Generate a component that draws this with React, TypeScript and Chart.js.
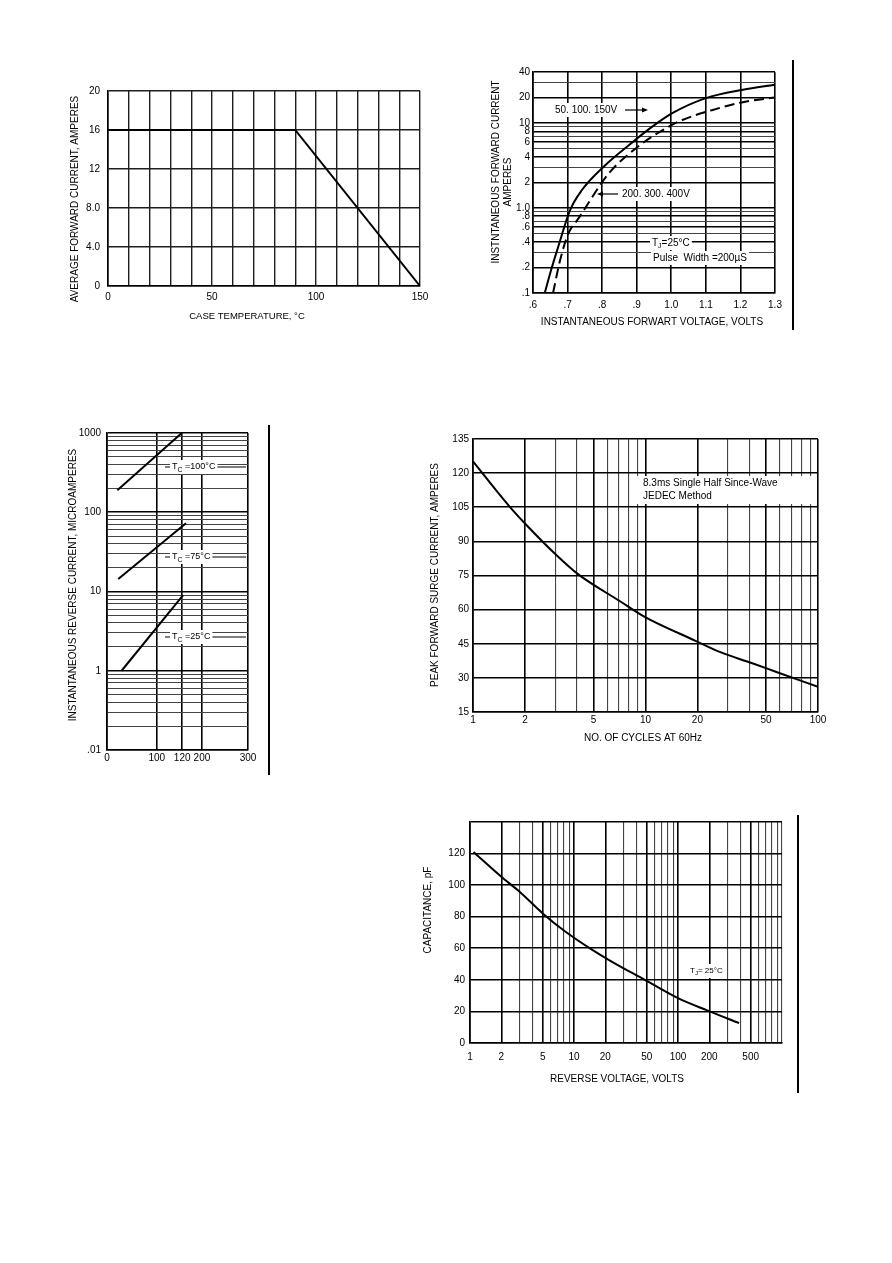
import React, { useEffect, useRef } from "react";
import { Chart, registerables } from "chart.js";

Chart.register(...registerables);

const FAMILY = "'Liberation Sans', Arial, Helvetica, sans-serif";

/* ---------------- Fig.1 Forward current derating ---------------- */
const c1CaseTemp = [0, 90, 150];
const c1AvgCurrent = [16, 16, 0];
const c1XGrid = [0, 10, 20, 30, 40, 50, 60, 70, 80, 90, 100, 110, 120, 130, 140, 150];
const c1XLabelValues = [0, 50, 100, 150];
const c1XLabels = ["0", "50", "100", "150"];
const c1YGrid = [0, 4, 8, 12, 16, 20];
const c1YLabels = ["0", "4.0", "8.0", "12", "16", "20"];

/* ---------------- Fig.2 Forward characteristics ---------------- */
const c2VoltsLow = [0.634, 0.653, 0.673, 0.707, 0.741, 0.809, 0.877, 0.945, 1.003, 1.1, 1.207, 1.3];
const c2AmpsLow = [0.1, 0.19, 0.35, 0.94, 1.62, 3.2, 5.5, 9.1, 13.1, 19.7, 24.7, 28.3];
const c2VoltsHigh = [0.658, 0.678, 0.702, 0.731, 0.819, 0.896, 0.984, 1.032, 1.12, 1.217, 1.3];
const c2AmpsHigh = [0.1, 0.24, 0.5, 0.75, 2.55, 5.0, 8.7, 10.9, 14.3, 18.0, 20.0];
const c2XGrid = [0.6, 0.7, 0.8, 0.9, 1.0, 1.1, 1.2, 1.3];
const c2XLabels = [".6", ".7", ".8", ".9", "1.0", "1.1", "1.2", "1.3"];
const c2YGrid = [0.1, 0.2, 0.3, 0.4, 0.5, 0.6, 0.7, 0.8, 0.9, 1, 2, 3, 4, 5, 6, 7, 8, 9, 10, 20, 30, 40];
const c2YLabelValues = [0.1, 0.2, 0.4, 0.6, 0.8, 1, 2, 4, 6, 8, 10, 20, 40];
const c2YLabels = [".1", ".2", ".4", ".6", ".8", "1.0", "2", "4", "6", "8", "10", "20", "40"];

/* ---------------- Fig.3 Reverse characteristics ---------------- */
const c3VoltsTc100 = [22, 159];
const c3MicroAmpsTc100 = [190, 1000];
const c3VoltsTc75 = [24, 168];
const c3MicroAmpsTc75 = [14.4, 72.5];
const c3VoltsTc25 = [31, 162];
const c3MicroAmpsTc25 = [1.0, 9.0];
const c3XGrid = [0, 106, 160, 202, 300];
const c3XLabels = ["0", "100", "120", "200", "300"];
const c3YLabelValues = [0.1, 1, 10, 100, 1000];
const c3YLabels = [".01", "1", "10", "100", "1000"];

/* ---------------- Fig.4 Surge current ---------------- */
const c4Cycles = [1, 1.63, 2.04, 3.04, 4.06, 7.08, 9.89, 19.5, 26.9, 42, 57.4, 100];
const c4SurgeAmps = [125.2, 105.3, 97.2, 84, 75.6, 63.8, 56.8, 46.3, 41.4, 36.3, 32.6, 26.1];
const c4XLabelValues = [1, 2, 5, 10, 20, 50, 100];
const c4XLabels = ["1", "2", "5", "10", "20", "50", "100"];
const c4YGrid = [15, 30, 45, 60, 75, 90, 105, 120, 135];
const c4YLabels = ["15", "30", "45", "60", "75", "90", "105", "120", "135"];

/* ---------------- Fig.5 Junction capacitance ---------------- */
const c5Volts = [1.08, 2, 3, 5, 8.3, 15, 23, 48, 100, 193, 387];
const c5CapPf = [121, 105.3, 95.8, 82.1, 70.5, 59, 51.6, 40, 28.4, 20.5, 12.6];
const c5XLabelValues = [1, 2, 5, 10, 20, 50, 100, 200, 500];
const c5XLabels = ["1", "2", "5", "10", "20", "50", "100", "200", "500"];
const c5YGrid = [0, 20, 40, 60, 80, 100, 120, 140];
const c5YLabels = ["0", "20", "40", "60", "80", "100", "120", ""];

/* ---------------- helpers ---------------- */
function logGrid(min: number, max: number): number[] {
  const out: number[] = [];
  const e0 = Math.round(Math.log10(min));
  const e1 = Math.round(Math.log10(max));
  for (let e = e0; e < e1; e++) {
    for (let k = 1; k <= 9; k++) out.push(Number((k * Math.pow(10, e)).toPrecision(6)));
  }
  out.push(max);
  return out;
}
const near = (a: number, b: number) => Math.abs(a - b) <= 1e-6 * Math.max(1, Math.abs(a));
const pts = (xs: number[], ys: number[]) => xs.map((x, i) => ({ x, y: ys[i] }));

type Box = { l: number; t: number; r: number; b: number; yW: number; xH: number };
type Rect = { left: number; top: number; width: number; height: number };
const PAD = 20;
function rectOf(b: Box): Rect {
  return { left: b.l - b.yW, top: b.t - PAD, width: b.yW + (b.r - b.l) + PAD, height: PAD + (b.b - b.t) + b.xH };
}

function axis(o: {
  horiz: boolean;
  type: "linear" | "logarithmic";
  min: number;
  max: number;
  grid: number[];
  lv: number[];
  labels: string[];
  pad: number;
  size: number;
  uniform?: boolean;
}) {
  const isLab = (v: number) => o.lv.some((t) => near(t, v));
  return {
    type: o.type,
    min: o.min,
    max: o.max,
    position: o.horiz ? "bottom" : "left",
    afterBuildTicks: (s: any) => {
      s.ticks = o.grid.map((v) => ({ value: v }));
    },
    afterFit: (s: any) => {
      if (o.horiz) s.height = o.size;
      else s.width = o.size;
    },
    ticks: {
      autoSkip: false,
      maxRotation: 0,
      minRotation: 0,
      padding: o.pad,
      color: "#000",
      font: { family: FAMILY, size: 10 },
      callback: (v: any) => {
        const i = o.lv.findIndex((t) => near(t, Number(v)));
        return i < 0 ? "" : o.labels[i];
      },
    },
    grid: {
      drawTicks: false,
      color: (c: any) => (o.uniform ? "#1e1e1e" : c.tick && isLab(c.tick.value) ? "#000" : "#444"),
      lineWidth: (c: any) => (o.uniform ? 1.4 : c.tick && isLab(c.tick.value) ? 1.6 : 1.1),
    },
    border: { display: true, color: "#000", width: 1.6 },
    title: { display: false },
  };
}

function font(size: number) {
  return `${size}px ${FAMILY}`;
}
function txt(ctx: CanvasRenderingContext2D, s: string, x: number, y: number, size = 10, align: CanvasTextAlign = "left", rot = 0) {
  ctx.save();
  ctx.translate(x, y);
  ctx.rotate(rot);
  ctx.font = font(size);
  ctx.fillStyle = "#000";
  ctx.textAlign = align;
  ctx.textBaseline = "middle";
  ctx.fillText(s, 0, 0);
  ctx.restore();
}
type Part = { s: string; size: number; dy?: number };
function rich(ctx: CanvasRenderingContext2D, parts: Part[], x: number, y: number, bg = false) {
  ctx.save();
  ctx.textBaseline = "middle";
  ctx.textAlign = "left";
  let w = 0;
  const widths = parts.map((p) => {
    ctx.font = font(p.size);
    const m = ctx.measureText(p.s).width;
    w += m;
    return m;
  });
  if (bg) {
    ctx.fillStyle = "#fff";
    ctx.fillRect(x - 2, y - 7, w + 4, 14);
  }
  ctx.fillStyle = "#000";
  let cx = x;
  parts.forEach((p, i) => {
    ctx.font = font(p.size);
    ctx.fillText(p.s, cx, y + (p.dy || 0));
    cx += widths[i];
  });
  ctx.restore();
}
function seg(ctx: CanvasRenderingContext2D, x1: number, y1: number, x2: number, y2: number, w = 1.2) {
  ctx.save();
  ctx.strokeStyle = "#000";
  ctx.lineWidth = w;
  ctx.beginPath();
  ctx.moveTo(x1, y1);
  ctx.lineTo(x2, y2);
  ctx.stroke();
  ctx.restore();
}
function head(ctx: CanvasRenderingContext2D, x: number, y: number, dir: 1 | -1) {
  ctx.save();
  ctx.fillStyle = "#000";
  ctx.beginPath();
  ctx.moveTo(x, y);
  ctx.lineTo(x - dir * 6, y - 2.5);
  ctx.lineTo(x - dir * 6, y + 2.5);
  ctx.closePath();
  ctx.fill();
  ctx.restore();
}

function overlay(id: string, rect: Rect, draw: (ctx: CanvasRenderingContext2D) => void) {
  return {
    id,
    beforeDatasetsDraw(chart: any) {
      const ctx = chart.ctx as CanvasRenderingContext2D;
      ctx.save();
      ctx.translate(-rect.left, -rect.top);
      draw(ctx);
      ctx.restore();
    },
  };
}

function baseOptions(x: any, y: any) {
  return {
    responsive: false,
    maintainAspectRatio: false,
    animation: false,
    devicePixelRatio: 1,
    layout: { padding: { top: PAD, right: PAD, left: 0, bottom: 0 } },
    plugins: { legend: { display: false }, tooltip: { enabled: false }, title: { display: false } },
    elements: { point: { radius: 0 } },
    scales: { x, y },
  };
}

const curve = (data: any[], extra: any = {}) => ({
  data,
  borderColor: "#000",
  borderWidth: 2,
  pointRadius: 0,
  fill: false,
  ...extra,
});

const HALF_PI = Math.PI / 2;

/* ---------------- boxes ---------------- */
const box1: Box = { l: 108, t: 91, r: 420, b: 286, yW: 48, xH: 44 };
const box2: Box = { l: 533, t: 72, r: 775, b: 293, yW: 53, xH: 47 };
const box3: Box = { l: 107, t: 433, r: 248, b: 750, yW: 47, xH: 32 };
const box4: Box = { l: 473, t: 439, r: 818, b: 712, yW: 53, xH: 41 };
const box5: Box = { l: 470, t: 822, r: 782, b: 1043, yW: 50, xH: 49 };

const rect1 = rectOf(box1);
const rect2 = rectOf(box2);
const rect3 = rectOf(box3);
const rect4 = rectOf(box4);
const rect5 = rectOf(box5);

function make1() {
  return {
    type: "line",
    data: { datasets: [curve(pts(c1CaseTemp, c1AvgCurrent), { tension: 0 })] },
    options: baseOptions(
      axis({ horiz: true, type: "linear", min: 0, max: 150, grid: c1XGrid, lv: c1XLabelValues, labels: c1XLabels, pad: 5, size: box1.xH, uniform: true }),
      axis({ horiz: false, type: "linear", min: 0, max: 20, grid: c1YGrid, lv: c1YGrid, labels: c1YLabels, pad: 8, size: box1.yW, uniform: true })
    ),
    plugins: [
      overlay("c1", rect1, (ctx) => {
        txt(ctx, "CASE TEMPERATURE, °C", 247, 316, 9.5, "center");
        txt(ctx, "AVERAGE FORWARD CURRENT, AMPERES", 75, 199, 10, "center", -HALF_PI);
      }),
    ],
  };
}

function make2() {
  return {
    type: "line",
    data: {
      datasets: [
        curve(pts(c2VoltsLow, c2AmpsLow), { cubicInterpolationMode: "monotone" }),
        curve(pts(c2VoltsHigh, c2AmpsHigh), { cubicInterpolationMode: "monotone", borderDash: [10, 5] }),
      ],
    },
    options: baseOptions(
      axis({ horiz: true, type: "linear", min: 0.6, max: 1.3, grid: c2XGrid, lv: c2XGrid, labels: c2XLabels, pad: 6, size: box2.xH }),
      axis({ horiz: false, type: "logarithmic", min: 0.1, max: 40, grid: c2YGrid, lv: c2YLabelValues, labels: c2YLabels, pad: 3, size: box2.yW })
    ),
    plugins: [
      overlay("c2", rect2, (ctx) => {
        txt(ctx, "INSTANTANEOUS FORWART VOLTAGE, VOLTS", 652, 322, 10, "center");
        txt(ctx, "INSTNTANEOUS FORWARD CURRENT", 496, 172, 10, "center", -HALF_PI);
        txt(ctx, "AMPERES", 508, 182, 10, "center", -HALF_PI);
        rich(ctx, [{ s: "50. 100. 150V", size: 10 }], 555, 110, true);
        seg(ctx, 625, 110, 643, 110);
        head(ctx, 648, 110, 1);
        rich(ctx, [{ s: "200. 300. 400V", size: 10 }], 622, 194, true);
        seg(ctx, 618, 194, 602, 194);
        head(ctx, 597, 194, -1);
        rich(ctx, [{ s: "T", size: 10 }, { s: "J", size: 7, dy: 3 }, { s: "=25°C", size: 10 }], 652, 243, true);
        rich(ctx, [{ s: "Pulse  Width =200µS", size: 10 }], 653, 258, true);
      }),
    ],
  };
}

function make3() {
  const tc = (ctx: CanvasRenderingContext2D, y: number, val: string) => {
    seg(ctx, 165, y, 246, y, 1.2);
    rich(ctx, [{ s: "T", size: 9 }, { s: "C", size: 7, dy: 3 }, { s: " =" + val + "°C", size: 9 }], 172, y, true);
  };
  return {
    type: "line",
    data: {
      datasets: [
        curve(pts(c3VoltsTc100, c3MicroAmpsTc100), { tension: 0 }),
        curve(pts(c3VoltsTc75, c3MicroAmpsTc75), { tension: 0 }),
        curve(pts(c3VoltsTc25, c3MicroAmpsTc25), { tension: 0 }),
      ],
    },
    options: baseOptions(
      axis({ horiz: true, type: "linear", min: 0, max: 300, grid: c3XGrid, lv: c3XGrid, labels: c3XLabels, pad: 2, size: box3.xH }),
      axis({ horiz: false, type: "logarithmic", min: 0.1, max: 1000, grid: logGrid(0.1, 1000), lv: c3YLabelValues, labels: c3YLabels, pad: 6, size: box3.yW })
    ),
    plugins: [
      overlay("c3", rect3, (ctx) => {
        txt(ctx, "INSTANTANEOUS REVERSE CURRENT, MICROAMPERES", 73, 585, 10, "center", -HALF_PI);
        tc(ctx, 467, "100");
        tc(ctx, 557, "75");
        tc(ctx, 637, "25");
      }),
    ],
  };
}

function make4() {
  return {
    type: "line",
    data: { datasets: [curve(pts(c4Cycles, c4SurgeAmps), { cubicInterpolationMode: "monotone" })] },
    options: baseOptions(
      axis({ horiz: true, type: "logarithmic", min: 1, max: 100, grid: logGrid(1, 100), lv: c4XLabelValues, labels: c4XLabels, pad: 2, size: box4.xH }),
      axis({ horiz: false, type: "linear", min: 15, max: 135, grid: c4YGrid, lv: c4YGrid, labels: c4YLabels, pad: 4, size: box4.yW })
    ),
    plugins: [
      overlay("c4", rect4, (ctx) => {
        txt(ctx, "NO. OF CYCLES AT 60Hz", 643, 738, 10, "center");
        txt(ctx, "PEAK FORWARD SURGE CURRENT, AMPERES", 435, 575, 10, "center", -HALF_PI);
        ctx.fillStyle = "#fff";
        ctx.fillRect(637, 476, 180, 28);
        txt(ctx, "8.3ms Single Half Since-Wave", 643, 483, 10, "left");
        txt(ctx, "JEDEC Method", 643, 496, 10, "left");
      }),
    ],
  };
}

function make5() {
  return {
    type: "line",
    data: { datasets: [curve(pts(c5Volts, c5CapPf), { cubicInterpolationMode: "monotone" })] },
    options: baseOptions(
      axis({ horiz: true, type: "logarithmic", min: 1, max: 1000, grid: logGrid(1, 1000), lv: c5XLabelValues, labels: c5XLabels, pad: 8, size: box5.xH }),
      axis({ horiz: false, type: "linear", min: 0, max: 140, grid: c5YGrid, lv: c5YGrid, labels: c5YLabels, pad: 5, size: box5.yW })
    ),
    plugins: [
      overlay("c5", rect5, (ctx) => {
        txt(ctx, "REVERSE VOLTAGE, VOLTS", 617, 1079, 10, "center");
        txt(ctx, "CAPACITANCE, pF", 428, 910, 10, "center", -HALF_PI);
        rich(ctx, [{ s: "T", size: 8 }, { s: "J", size: 6, dy: 2 }, { s: "= 25°C", size: 8 }], 690, 971, true);
      }),
    ],
  };
}

function ChartCanvas({ rect, make }: { rect: Rect; make: () => any }) {
  const ref = useRef<HTMLCanvasElement | null>(null);
  useEffect(() => {
    const chart = new Chart(ref.current as HTMLCanvasElement, make());
    return () => chart.destroy();
  }, []);
  return (
    <div style={{ position: "absolute", left: rect.left, top: rect.top, width: rect.width, height: rect.height }}>
      <canvas ref={ref} width={rect.width} height={rect.height} style={{ display: "block", width: rect.width, height: rect.height }} />
    </div>
  );
}

function VLine({ x, y1, y2 }: { x: number; y1: number; y2: number }) {
  return <div style={{ position: "absolute", left: x, top: y1, width: 1.5, height: y2 - y1, background: "#000" }} />;
}

export default function App() {
  return (
    <div style={{ position: "absolute", left: 0, top: 0, width: 892, height: 1263, background: "#fff", overflow: "hidden" }}>
      <ChartCanvas rect={rect1} make={make1} />
      <ChartCanvas rect={rect2} make={make2} />
      <ChartCanvas rect={rect3} make={make3} />
      <ChartCanvas rect={rect4} make={make4} />
      <ChartCanvas rect={rect5} make={make5} />
      <VLine x={792} y1={60} y2={330} />
      <VLine x={268} y1={425} y2={775} />
      <VLine x={797} y1={815} y2={1093} />
    </div>
  );
}
